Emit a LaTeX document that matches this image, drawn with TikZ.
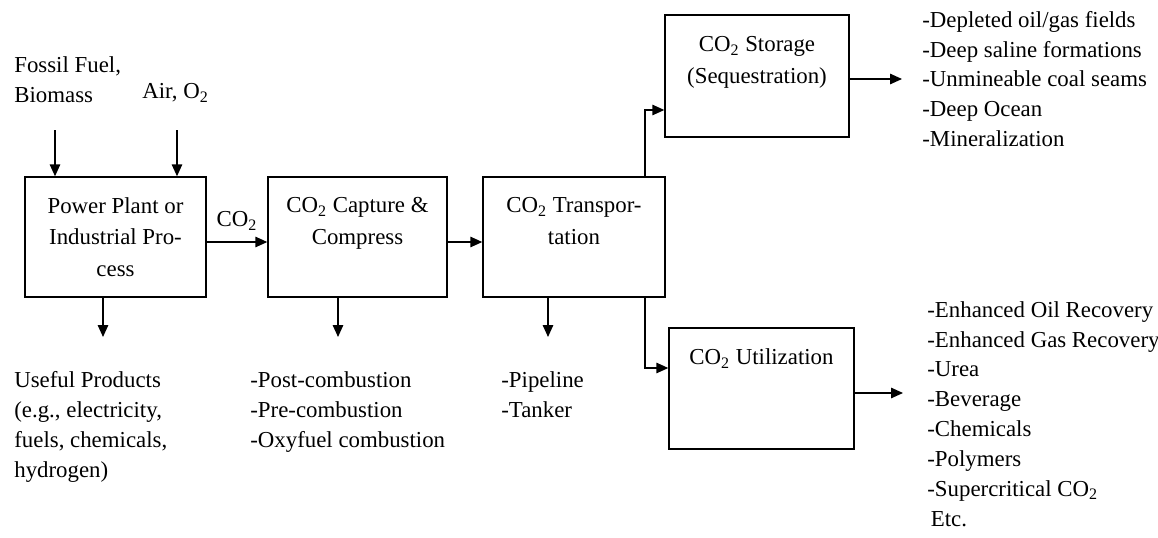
\documentclass[tikz,border=0pt]{standalone}
\usepackage{fontspec}
\setmainfont{Liberation Serif}
\usetikzlibrary{arrows.meta}

\begin{document}
\begin{tikzpicture}[
  stage/.style={rectangle, draw, line width=0.8pt, align=center, inner sep=0pt},
  items/.style={align=left, anchor=west, inner sep=0pt, font=\fontsize{13pt}{17pt}\selectfont},
  flow/.style={line width=0.8pt, -{Triangle[length=2.4mm, width=2.1mm]}},
  every node/.style={font=\fontsize{13pt}{18pt}\selectfont}
]
  \useasboundingbox (0, 0) rectangle (23.16, -10.74);

  % main chain
  \node[stage, minimum width=3.62cm, minimum height=2.40cm] (plant) at (2.31, -4.74)
    {Power Plant or\\Industrial Pro-\\cess};
  \node[stage, minimum width=3.58cm, minimum height=2.40cm] (capture) at (7.15, -4.74)
    {CO\textsubscript{2} Capture \&\\Compress\\\mbox{}};
  \node[stage, minimum width=3.64cm, minimum height=2.40cm] (transport) at (11.48, -4.74)
    {CO\textsubscript{2} Transpor-\\tation\\\mbox{}};
  \node[stage, minimum width=3.68cm, minimum height=2.44cm] (storage) at (15.14, -1.52)
    {CO\textsubscript{2} Storage\\(Sequestration)\\\mbox{}};
  \node[stage, minimum width=3.70cm, minimum height=2.42cm] (util) at (15.23, -7.77)
    {CO\textsubscript{2} Utilization\\\mbox{}\\\mbox{}};

  % inputs
  \node[items] (fossil) at (0.28, -1.60) {Fossil Fuel,\\Biomass};
  \node[items] (air) at (2.84, -1.86) {Air, O\textsubscript{2}};
  \coordinate (fossil-in) at (1.10, -2.60);
  \coordinate (air-in) at (3.54, -2.60);
  \draw[flow] (fossil-in) -- (fossil-in |- plant.north);
  \draw[flow] (air-in) -- (air-in |- plant.north);

  \draw[flow] ([yshift=-1mm]plant.east) -- ([yshift=-1mm]capture.west)
    node[midway, above=3pt] (co2) {CO\textsubscript{2}};
  \draw[flow] ([yshift=-1mm]capture.east) -- ([yshift=-1mm]transport.west);

  % outputs below
  \coordinate (useful-top) at (2.06, -6.74);
  \coordinate (capture-top) at (6.76, -6.74);
  \coordinate (transport-top) at (10.96, -6.74);
  \draw[flow] (plant.south -| useful-top) -- (useful-top);
  \draw[flow] (capture.south -| capture-top) -- (capture-top);
  \draw[flow] (transport.south -| transport-top) -- (transport-top);

  \node[items] (useful) at (0.28, -8.54)
    {Useful Products\\(e.g., electricity,\\fuels, chemicals,\\hydrogen)};
  \node[items] (methods) at (5.00, -8.24)
    {-Post-combustion\\-Pre-combustion\\-Oxyfuel combustion};
  \node[items] (modes) at (10.02, -7.90) {-Pipeline\\-Tanker};

  % split to storage and utilization
  \coordinate (split) at (12.90, -4.74);
  \draw[flow] (split |- transport.north) |- ([yshift=-6.8mm]storage.west);
  \draw[flow] (split |- transport.south) |- ([yshift=4.1mm]util.west);

  \coordinate (storage-end) at (18.04, -1.58);
  \coordinate (util-end) at (18.06, -7.86);
  \draw[flow] (storage.east |- storage-end) -- (storage-end);
  \draw[flow] (util.east |- util-end) -- (util-end);

  \node[items] (sinks) at (18.44, -1.58)
    {-Depleted oil/gas fields\\-Deep saline formations\\-Unmineable coal seams\\-Deep Ocean\\-Mineralization};
  \node[items] (uses) at (18.54, -8.28)
    {-Enhanced Oil Recovery\\-Enhanced Gas Recovery\\-Urea\\-Beverage\\-Chemicals\\-Polymers\\-Supercritical CO\textsubscript{2}\\\hspace{2pt}Etc.};
\end{tikzpicture}
\end{document}
